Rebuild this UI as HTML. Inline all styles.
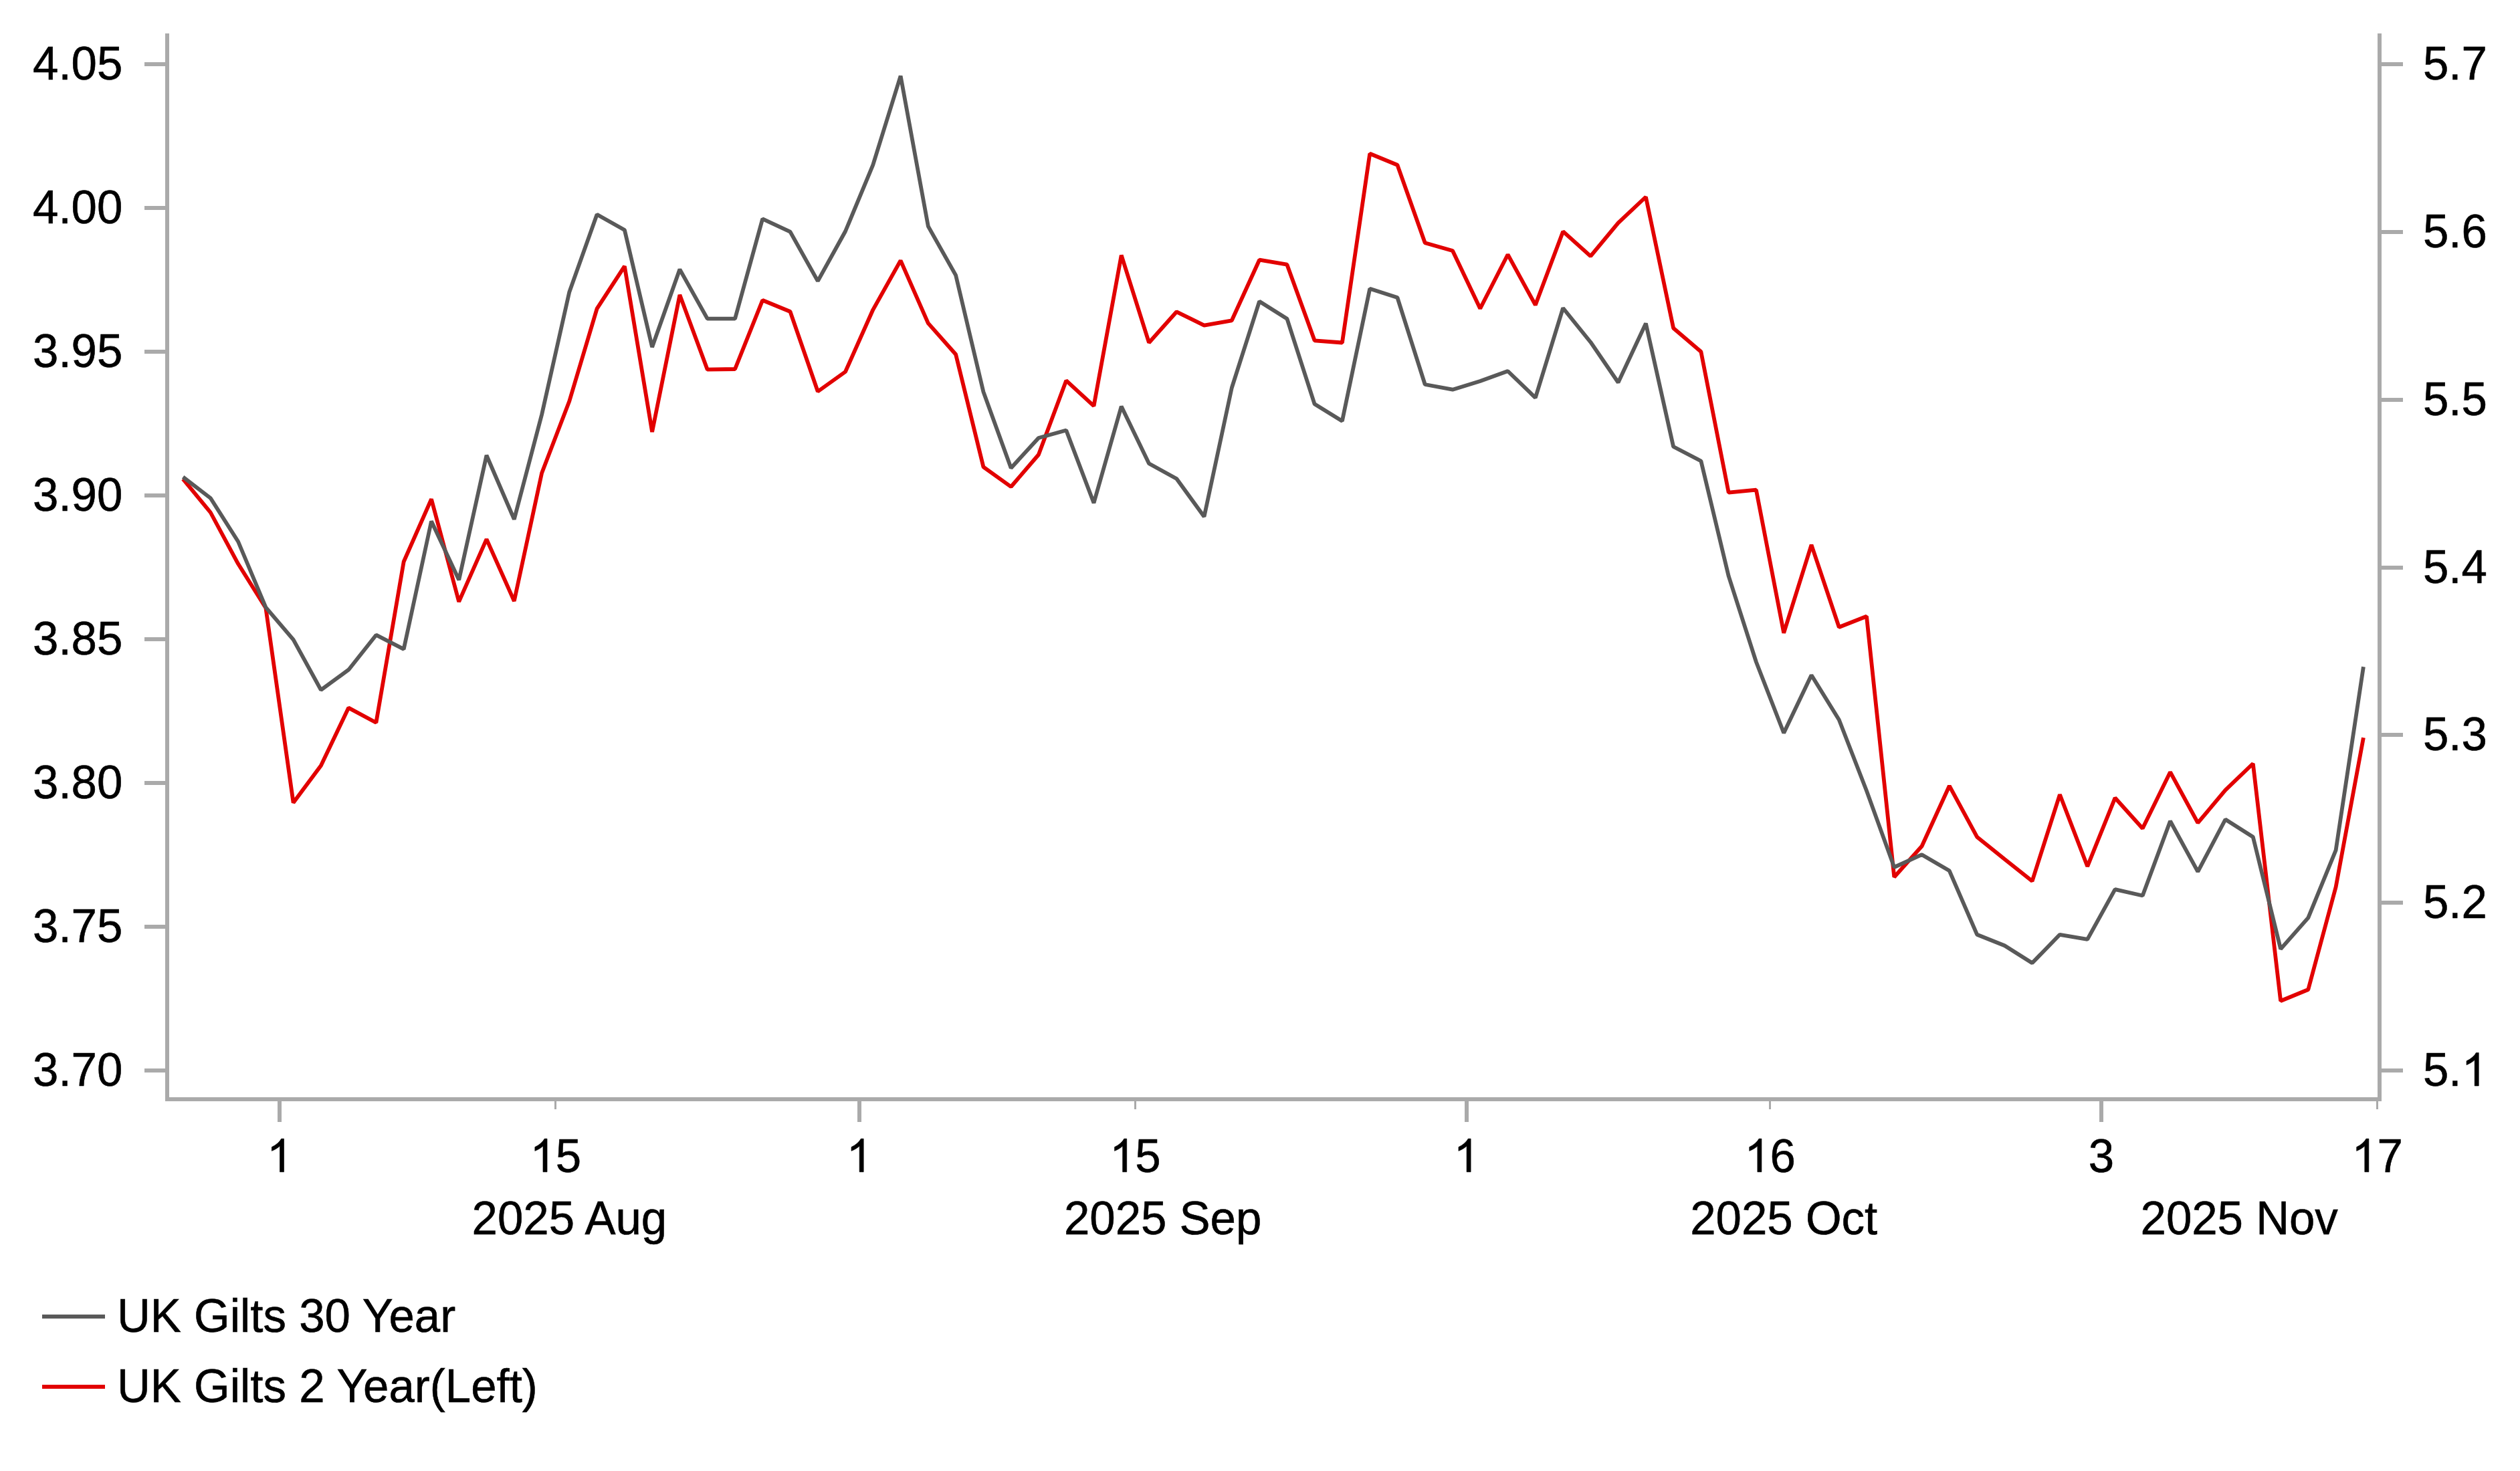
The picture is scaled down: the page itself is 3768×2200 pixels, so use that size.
<!DOCTYPE html>
<html><head><meta charset="utf-8"><title>UK Gilts</title>
<style>
html,body{margin:0;padding:0;background:#fff;}
body{width:3768px;height:2200px;overflow:hidden;}
svg{display:block;}
text{font-family:"Liberation Sans",sans-serif;fill:#000;stroke:#000;stroke-width:0.6px;}
.g1{fill:#000;stroke:#000;stroke-width:18;}
</style></head><body>
<svg width="3768" height="2200" viewBox="0 0 3768 2200">
<rect x="0" y="0" width="3768" height="2200" fill="#ffffff"/>
<g fill="#aaaaaa" shape-rendering="crispEdges">
<rect x="247" y="50" width="6" height="1597"/>
<rect x="3555" y="50" width="6" height="1597"/>
<rect x="247" y="1641" width="3314" height="6"/>
<rect x="216" y="93" width="32" height="6"/>
<rect x="216" y="308" width="32" height="6"/>
<rect x="216" y="523" width="32" height="6"/>
<rect x="216" y="738" width="32" height="6"/>
<rect x="216" y="953" width="32" height="6"/>
<rect x="216" y="1168" width="32" height="6"/>
<rect x="216" y="1383" width="32" height="6"/>
<rect x="216" y="1598" width="32" height="6"/>
<rect x="3560" y="93" width="33" height="6"/>
<rect x="3560" y="344" width="33" height="6"/>
<rect x="3560" y="595" width="33" height="6"/>
<rect x="3560" y="846" width="33" height="6"/>
<rect x="3560" y="1096" width="33" height="6"/>
<rect x="3560" y="1347" width="33" height="6"/>
<rect x="3560" y="1598" width="33" height="6"/>
<rect x="415" y="1645" width="6" height="33"/>
<rect x="1282" y="1645" width="6" height="33"/>
<rect x="2190" y="1645" width="6" height="33"/>
<rect x="3139" y="1645" width="6" height="33"/>
<rect x="829" y="1645" width="3" height="14"/>
<rect x="1696" y="1645" width="3" height="14"/>
<rect x="2645" y="1645" width="3" height="14"/>
<rect x="3553" y="1645" width="3" height="14"/>
</g>
<polyline fill="none" stroke="#e20000" stroke-width="5.8" stroke-linejoin="bevel" points="273.6,716.3 314.8,766.5 356.1,843.3 397.4,909.3 438.6,1200.5 479.9,1145.0 521.2,1058.6 562.4,1080.7 603.7,840.0 645.0,746.5 686.2,899.9 727.5,806.4 768.8,899.0 810.1,707.5 851.3,600.0 892.6,461.7 933.9,398.2 975.1,646.0 1016.4,441.0 1057.7,552.7 1099.0,552.0 1140.2,449.0 1181.5,466.0 1222.8,585.5 1264.0,556.0 1305.3,463.3 1346.6,389.7 1387.8,483.3 1429.1,530.0 1470.4,698.3 1511.7,728.0 1552.9,680.0 1594.2,569.2 1635.5,607.2 1676.7,381.7 1718.0,512.5 1759.3,466.3 1800.5,486.7 1841.8,479.3 1883.1,388.7 1924.4,395.7 1965.6,509.3 2006.9,512.5 2048.2,229.8 2089.4,246.7 2130.7,363.3 2172.0,375.0 2213.2,461.5 2254.5,380.7 2295.8,456.2 2337.1,346.2 2378.3,383.2 2419.6,333.3 2460.9,294.5 2502.1,490.7 2543.4,526.0 2584.7,736.7 2625.9,732.7 2667.2,946.7 2708.5,814.8 2749.8,938.0 2791.0,921.7 2832.3,1311.7 2873.6,1265.5 2914.8,1175.3 2956.1,1251.7 2997.4,1285.0 3038.6,1317.8 3079.9,1188.3 3121.2,1295.8 3162.5,1193.3 3203.7,1239.0 3245.0,1154.7 3286.3,1230.7 3327.5,1181.7 3368.8,1142.0 3410.1,1497.0 3451.3,1480.0 3492.6,1326.7 3533.9,1103.3"/>
<polyline fill="none" stroke="#595959" stroke-width="5.8" stroke-linejoin="bevel" points="273.6,713.4 314.8,745.0 356.1,810.0 397.4,908.3 438.6,956.7 479.9,1031.8 521.2,1001.7 562.4,949.7 603.7,970.9 645.0,779.5 686.2,867.3 727.5,681.0 768.8,776.7 810.1,620.0 851.3,436.7 892.6,320.7 933.9,344.0 975.1,519.2 1016.4,402.8 1057.7,476.7 1099.0,476.7 1140.2,327.3 1181.5,346.7 1222.8,420.3 1264.0,346.0 1305.3,246.7 1346.6,113.5 1387.8,338.3 1429.1,411.7 1470.4,586.0 1511.7,700.0 1552.9,655.0 1594.2,643.5 1635.5,752.3 1676.7,607.8 1718.0,693.3 1759.3,716.0 1800.5,772.7 1841.8,580.0 1883.1,450.7 1924.4,476.7 1965.6,604.3 2006.9,629.7 2048.2,431.8 2089.4,445.0 2130.7,575.0 2172.0,582.7 2213.2,570.0 2254.5,555.0 2295.8,594.8 2337.1,460.7 2378.3,511.7 2419.6,572.0 2460.9,483.7 2502.1,668.0 2543.4,689.5 2584.7,861.7 2625.9,990.0 2667.2,1096.3 2708.5,1009.7 2749.8,1076.5 2791.0,1182.7 2832.3,1297.0 2873.6,1278.2 2914.8,1302.3 2956.1,1397.7 2997.4,1414.3 3038.6,1440.2 3079.9,1397.8 3121.2,1404.8 3162.5,1330.2 3203.7,1339.5 3245.0,1228.0 3286.3,1303.7 3327.5,1225.5 3368.8,1251.7 3410.1,1419.3 3451.3,1372.7 3492.6,1271.7 3533.9,997.3"/>
<text transform="translate(183.30,119.00) scale(0.9746,1)" text-anchor="end" font-size="70.8">4.05</text>
<text transform="translate(183.30,334.00) scale(0.9746,1)" text-anchor="end" font-size="70.8">4.00</text>
<text transform="translate(183.30,549.00) scale(0.9746,1)" text-anchor="end" font-size="70.8">3.95</text>
<text transform="translate(183.30,764.00) scale(0.9746,1)" text-anchor="end" font-size="70.8">3.90</text>
<text transform="translate(183.30,979.00) scale(0.9746,1)" text-anchor="end" font-size="70.8">3.85</text>
<text transform="translate(183.30,1194.00) scale(0.9746,1)" text-anchor="end" font-size="70.8">3.80</text>
<text transform="translate(183.30,1409.00) scale(0.9746,1)" text-anchor="end" font-size="70.8">3.75</text>
<text transform="translate(183.30,1624.00) scale(0.9746,1)" text-anchor="end" font-size="70.8">3.70</text>
<text transform="translate(3623.00,119.00) scale(0.9746,1)" text-anchor="start" font-size="70.8">5.7</text>
<text transform="translate(3623.00,370.00) scale(0.9746,1)" text-anchor="start" font-size="70.8">5.6</text>
<text transform="translate(3623.00,621.00) scale(0.9746,1)" text-anchor="start" font-size="70.8">5.5</text>
<text transform="translate(3623.00,872.00) scale(0.9746,1)" text-anchor="start" font-size="70.8">5.4</text>
<text transform="translate(3623.00,1122.00) scale(0.9746,1)" text-anchor="start" font-size="70.8">5.3</text>
<text transform="translate(3623.00,1373.00) scale(0.9746,1)" text-anchor="start" font-size="70.8">5.2</text>
<text transform="translate(3623.00,1624.00) scale(0.9746,1)" font-size="70.8">5</text>
<text transform="translate(3661.36,1624.00) scale(0.9746,1)" font-size="70.8">.</text>
<path class="g1" transform="translate(3680.55,1624.00) scale(0.03369,-0.03369)" d="M763 0h-180v1147q-65 -62 -170.5 -124t-189.5 -93v174q151 71 264 172t160 196h116z"/>
<path class="g1" transform="translate(398.82,1752.70) scale(0.03369,-0.03369)" d="M763 0h-180v1147q-65 -62 -170.5 -124t-189.5 -93v174q151 71 264 172t160 196h116z"/>
<path class="g1" transform="translate(792.34,1752.70) scale(0.03369,-0.03369)" d="M763 0h-180v1147q-65 -62 -170.5 -124t-189.5 -93v174q151 71 264 172t160 196h116z"/>
<text transform="translate(830.70,1752.70) scale(0.9746,1)" font-size="70.8">5</text>
<path class="g1" transform="translate(1265.49,1752.70) scale(0.03369,-0.03369)" d="M763 0h-180v1147q-65 -62 -170.5 -124t-189.5 -93v174q151 71 264 172t160 196h116z"/>
<path class="g1" transform="translate(1659.01,1752.70) scale(0.03369,-0.03369)" d="M763 0h-180v1147q-65 -62 -170.5 -124t-189.5 -93v174q151 71 264 172t160 196h116z"/>
<text transform="translate(1697.37,1752.70) scale(0.9746,1)" font-size="70.8">5</text>
<path class="g1" transform="translate(2173.43,1752.70) scale(0.03369,-0.03369)" d="M763 0h-180v1147q-65 -62 -170.5 -124t-189.5 -93v174q151 71 264 172t160 196h116z"/>
<path class="g1" transform="translate(2608.22,1752.70) scale(0.03369,-0.03369)" d="M763 0h-180v1147q-65 -62 -170.5 -124t-189.5 -93v174q151 71 264 172t160 196h116z"/>
<text transform="translate(2646.58,1752.70) scale(0.9746,1)" font-size="70.8">6</text>
<text transform="translate(3141.82,1752.70) scale(0.9746,1)" text-anchor="middle" font-size="70.8">3</text>
<path class="g1" transform="translate(3516.16,1752.70) scale(0.03369,-0.03369)" d="M763 0h-180v1147q-65 -62 -170.5 -124t-189.5 -93v174q151 71 264 172t160 196h116z"/>
<text transform="translate(3554.52,1752.70) scale(0.9746,1)" font-size="70.8">7</text>
<text transform="translate(851.34,1846.00) scale(0.9746,1)" text-anchor="middle" font-size="70.8">2025 Aug</text>
<text transform="translate(1738.64,1846.00) scale(0.9746,1)" text-anchor="middle" font-size="70.8">2025 Sep</text>
<text transform="translate(2667.22,1846.00) scale(0.9746,1)" text-anchor="middle" font-size="70.8">2025 Oct</text>
<text transform="translate(3348.17,1846.00) scale(0.9746,1)" text-anchor="middle" font-size="70.8">2025 Nov</text>
<rect x="63" y="1966" width="94" height="6" fill="#595959" shape-rendering="crispEdges"/>
<rect x="63" y="2071" width="94" height="6" fill="#e20000" shape-rendering="crispEdges"/>
<text transform="translate(175.00,1991.80) scale(0.9746,1)" text-anchor="start" font-size="70.8">UK Gilts 30 Year</text>
<text transform="translate(175.00,2096.80) scale(0.9746,1)" text-anchor="start" font-size="70.8">UK Gilts 2 Year(Left)</text>
</svg>
</body></html>
